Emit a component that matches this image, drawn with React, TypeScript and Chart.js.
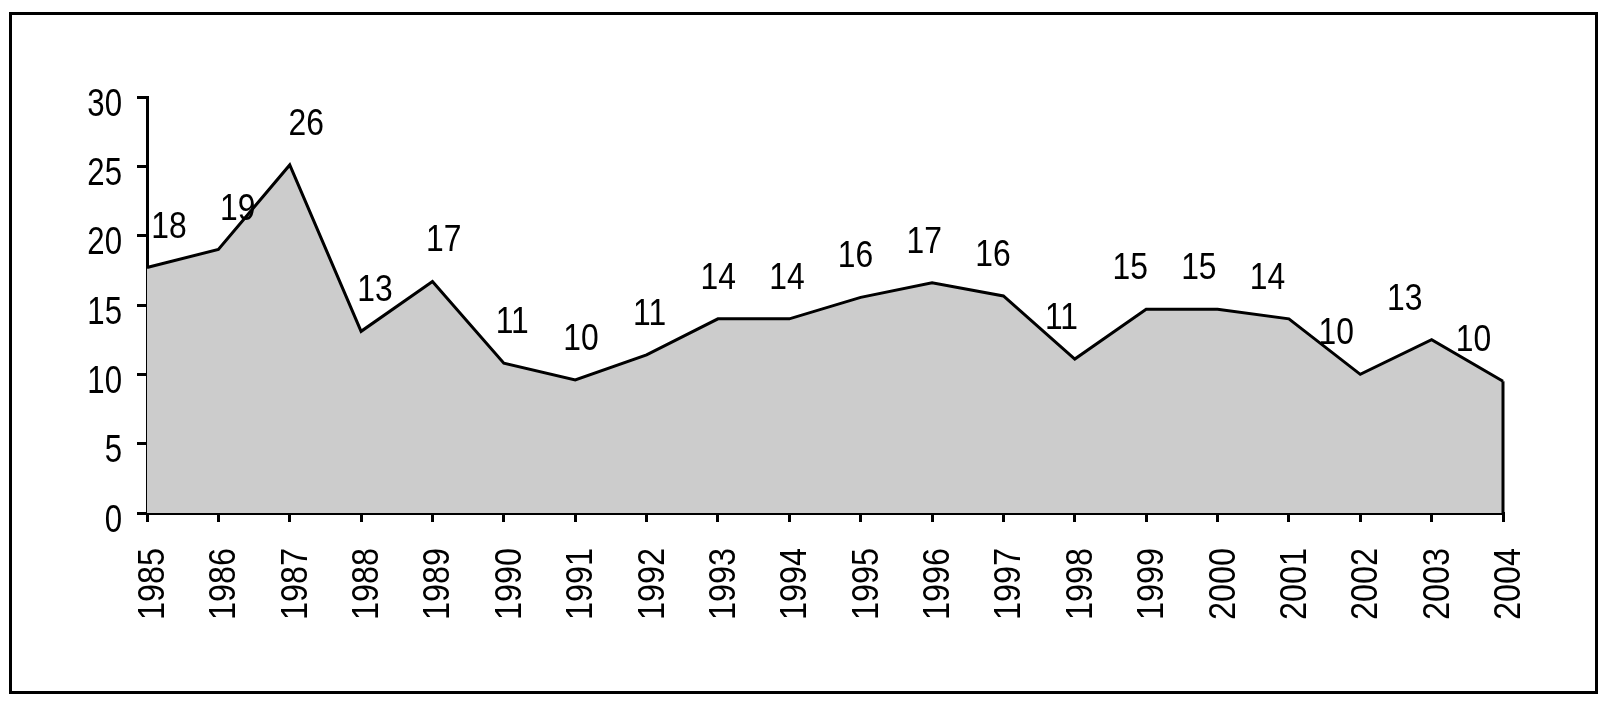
import React, { useEffect, useRef } from "react";
import { Chart, registerables } from "chart.js";

Chart.register(...registerables);

const years = ["1985","1986","1987","1988","1989","1990","1991","1992","1993","1994","1995","1996","1997","1998","1999","2000","2001","2002","2003","2004"];
const values = [17.7, 19.0, 25.1, 13.1, 16.7, 10.8, 9.6, 11.4, 14.0, 14.0, 15.55, 16.6, 15.65, 11.1, 14.7, 14.7, 14.0, 10.0, 12.5, 9.5];
const pointLabels = ["18","19","26","13","17","11","10","11","14","14","16","17","16","11","15","15","14","10","13","10"];
const yTicks = [0, 5, 10, 15, 20, 25, 30];

const FONT = "'Liberation Sans', Arial, sans-serif";

function drawText(
  ctx: CanvasRenderingContext2D,
  text: string,
  x: number,
  y: number,
  align: CanvasTextAlign,
  rotate: boolean,
  size: number,
  squeeze: number
) {
  ctx.save();
  ctx.font = `${size}px ${FONT}`;
  ctx.translate(x, y);
  if (rotate) ctx.rotate(-Math.PI / 2);
  ctx.scale(squeeze, 1);
  ctx.textAlign = align;
  ctx.textBaseline = "alphabetic";
  ctx.fillText(text, 0, 0);
  ctx.restore();
}

export default function App() {
  const ref = useRef<HTMLCanvasElement | null>(null);
  useEffect(() => {
    if (!ref.current) return;
    const textPlugin = {
      id: "textPlugin",
      afterDraw(chart: any) {
        const ctx: CanvasRenderingContext2D = chart.ctx;
        const meta = chart.getDatasetMeta(0);
        const yScale = chart.scales.y;
        const xScale = chart.scales.x;
        const area = chart.chartArea;
        ctx.save();
        // right edge of the area
        const lastIdx = values.length - 1;
        ctx.strokeStyle = "#000";
        ctx.lineWidth = 3;
        ctx.beginPath();
        ctx.moveTo(xScale.getPixelForValue(lastIdx), yScale.getPixelForValue(values[lastIdx]));
        ctx.lineTo(xScale.getPixelForValue(lastIdx), yScale.getPixelForValue(0));
        ctx.stroke();

        ctx.fillStyle = "#000";
        // data labels
        meta.data.forEach((pt: any, i: number) => {
          const lx = area.left + 22 + (pt.x - area.left) * 0.962;
          drawText(ctx, pointLabels[i], lx, pt.y - 30, "center", false, 37, 0.86);
        });
        // y tick labels
        yScale.ticks.forEach((t: any, i: number) => {
          const y = yScale.getPixelForTick(i);
          drawText(ctx, String(t.value), yScale.right - 25, y + 18.5, "right", false, 38, 0.82);
        });
        // x tick labels
        xScale.ticks.forEach((t: any, i: number) => {
          const x = xScale.getPixelForTick(i);
          drawText(ctx, years[t.value], x + 17, xScale.top + 35, "right", true, 36, 0.9);
        });
        ctx.restore();
      },
    };
    const chart = new Chart(ref.current, {
      type: "line",
      data: {
        labels: years,
        datasets: [
          {
            data: values,
            borderColor: "#000",
            borderWidth: 3,
            backgroundColor: "#cccccc",
            fill: "origin",
            pointRadius: 0,
            tension: 0,
          },
        ],
      },
      options: {
        responsive: false,
        animation: false,
        layout: { padding: { top: 97, right: 107, left: 0, bottom: 0 } },
        plugins: { legend: { display: false }, tooltip: { enabled: false } },
        scales: {
          x: {
            offset: false,
            grid: { drawOnChartArea: false, drawTicks: true, tickLength: 9, color: "#000", lineWidth: 3 },
            border: { display: true, color: "#000", width: 3 },
            ticks: { display: false, autoSkip: false },
            afterFit(scale: any) {
              scale.height = 195;
            },
          },
          y: {
            min: 0,
            max: 30,
            afterBuildTicks(scale: any) {
              scale.ticks = yTicks.map((v) => ({ value: v }));
            },
            grid: { drawOnChartArea: false, drawTicks: true, tickLength: 10, color: "#000", lineWidth: 3 },
            border: { display: true, color: "#000", width: 3 },
            ticks: { display: false },
            afterFit(scale: any) {
              scale.width = 147;
            },
          },
        },
      },
      plugins: [textPlugin],
    });
    return () => chart.destroy();
  }, []);
  return (
    <div style={{ position: "fixed", left: 0, top: 0, width: 1610, height: 708, background: "#fff" }}>
      <canvas ref={ref} width={1610} height={708} style={{ position: "absolute", left: 0, top: 0 }} />
      <div
        style={{
          position: "absolute",
          left: 9,
          top: 12,
          width: 1589,
          height: 682,
          border: "3px solid #000",
          boxSizing: "border-box",
          pointerEvents: "none",
        }}
      />
    </div>
  );
}
